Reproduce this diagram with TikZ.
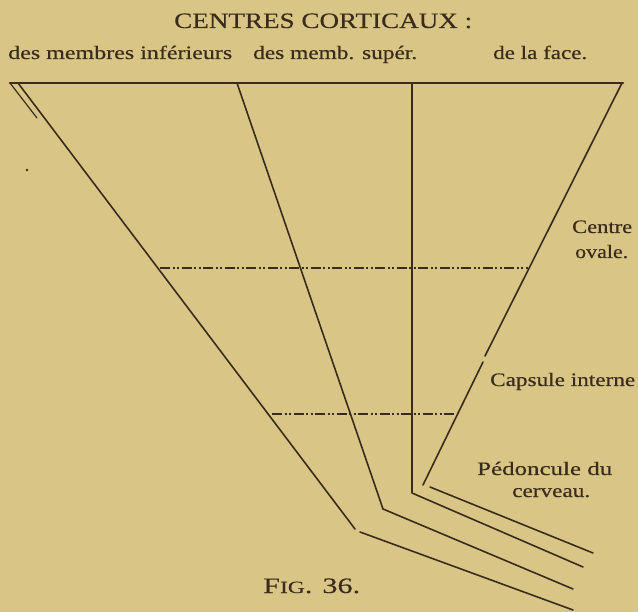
\documentclass[tikz,border=0pt]{standalone}
\usepackage{fontspec}
\setmainfont{Liberation Serif}
\usepackage{graphicx}
\definecolor{paper}{HTML}{D9C585}
\definecolor{ink}{HTML}{3A2C1C}
\newcommand{\fitto}[2]{\resizebox{#1pt}{\height}{#2}}
\tikzset{
  lbl/.style={inner sep=0pt, text=ink, font=\fontsize{19}{22}\selectfont\addfontfeature{FakeBold=0.4}},
  ttl/.style={inner sep=0pt, text=ink, font=\fontsize{22}{25}\selectfont\addfontfeature{FakeBold=0.3}},
  fibre/.style={draw=ink, line width=1.6pt, line cap=round, line join=round},
  cortex/.style={draw=ink, line width=2.6pt, line cap=round},
  level/.style={draw=ink, line width=1.3pt, dash pattern=on 10pt off 2.5pt on 2pt off 2.5pt on 2pt off 2.5pt}
}
\begin{document}
\begin{tikzpicture}[x=1pt,y=-1pt]
\fill[paper] (0,0) rectangle (638,612);
\useasboundingbox (0,0) rectangle (638,612);
% coordinates
\coordinate (cL) at (10,83);
\coordinate (cR) at (623,83);
\coordinate (oS) at (37,118);
\coordinate (a0) at (18,83);
\coordinate (a1) at (355,529);
\coordinate (a2) at (360,532);
\coordinate (a3) at (573,610);
\coordinate (b0) at (237,83);
\coordinate (b1) at (383,509);
\coordinate (b2) at (573,589);
\coordinate (c0) at (412,83);
\coordinate (c1) at (412,493);
\coordinate (c2) at (583,567);
\coordinate (d0) at (622,83);
\coordinate (d1) at (485,356);
\coordinate (d2) at (483,362);
\coordinate (d3) at (423,485);
\coordinate (e0) at (430,487);
\coordinate (e1) at (593,553);
\coordinate (u0) at (160,268);
\coordinate (u1) at (528,268);
\coordinate (l0) at (272,414);
\coordinate (l1) at (455,414);
% lines
\draw[cortex] (cL) -- (cR);
\draw[fibre, line width=1.2pt] (cL) -- (oS);
\draw[fibre] (a0) -- (a1);
\draw[fibre] (a2) -- (a3);
\draw[fibre] (b0) -- (b1) -- (b2);
\draw[fibre] (c0) -- (c1) -- (c2);
\draw[fibre] (d0) -- (d1);
\draw[fibre] (d2) -- (d3);
\draw[fibre] (e0) -- (e1);
\draw[level] (u0) -- (u1);
\draw[level] (l0) -- (l1);
\fill[ink] (27,170) circle (1.3pt);
% texts
\node[ttl, anchor=base west] (title) at (174,28) {\fitto{298}{CENTRES CORTICAUX :}};
\node[lbl, anchor=base west] (s1) at (8,59) {\fitto{224}{des membres inférieurs}};
\node[lbl, anchor=base west] (s2) at (253,59) {\fitto{164}{des memb. supér.}};
\node[lbl, anchor=base west] (s3) at (493,59) {\fitto{94}{de la face.}};
\node[lbl, anchor=base west] (r1) at (572,233) {\fitto{60}{Centre}};
\node[lbl, anchor=base west] (r2) at (575,258) {\fitto{53}{ovale.}};
\node[lbl, anchor=base west] (r3) at (490,386) {\fitto{145}{Capsule interne}};
\node[lbl, anchor=base west] (r4) at (477,475) {\fitto{135}{Pédoncule du}};
\node[lbl, anchor=base west] (r5) at (512,497) {\fitto{78}{cerveau.}};
\node[ttl, anchor=base west] (fig) at (263,593) {\fitto{97}{F\scalebox{0.78}{IG}. 36.}};
\end{tikzpicture}
\end{document}
